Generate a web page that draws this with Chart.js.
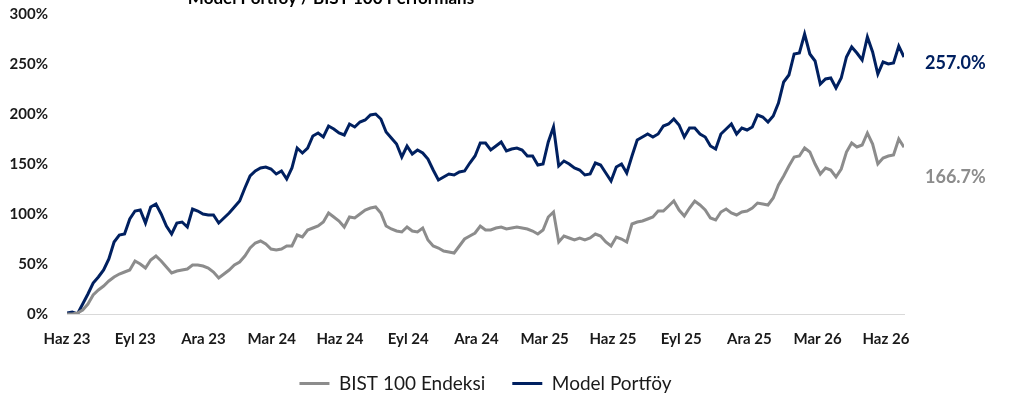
<!DOCTYPE html>
<html>
<head>
<meta charset="utf-8">
<script src="https://cdn.jsdelivr.net/npm/chart.js@4"></script>
<style>
  html, body { margin: 0; padding: 0; background: #fff; }
  #wrap { width: 1014px; height: 400px; }
</style>
</head>
<body>
<div id="wrap"><canvas id="perfChart" width="1014" height="400"></canvas></div>
<script>
// Weekly closes, cumulative % return since Jun 2023
const titleText = 'Model Portföy / BIST 100 Performans';
const seriesNames = ['BIST 100 Endeksi', 'Model Portföy'];
const tickLabels = ['Haz 23', 'Eyl 23', 'Ara 23', 'Mar 24', 'Haz 24', 'Eyl 24', 'Ara 24',
                    'Mar 25', 'Haz 25', 'Eyl 25', 'Ara 25', 'Mar 26', 'Haz 26'];
const yTicks = [0, 50, 100, 150, 200, 250, 300];

const bistValues = [
    0, 0, 1, 4, 10, 19, 24, 28, 33, 37,
    40, 42, 44, 53, 50, 46, 54, 58, 53, 47,
    41, 43, 44, 45, 49, 49, 48, 46, 42, 36,
    40, 44, 49, 52, 58, 66, 71, 73, 70, 65,
    64, 65, 68, 68, 79, 77, 84, 86, 88, 92,
    101, 97, 93, 87, 97, 96, 100, 104, 106, 107,
    101, 88, 85, 83, 82, 87, 83, 82, 86, 74,
    68, 66, 63, 62, 61, 68, 75, 78, 81, 88,
    84, 84, 86, 87, 85, 86, 87, 86, 85, 83,
    80, 84, 97, 102, 72, 78, 76, 74, 76, 74,
    76, 80, 78, 72, 68, 77, 75, 72, 90, 92,
    93, 95, 97, 103, 103, 108, 113, 104, 98, 106,
    113, 109, 104, 96, 94, 102, 105, 101, 99, 102,
    103, 106, 111, 110, 109, 116, 129, 138, 148, 157,
    158, 166, 162, 150, 140, 146, 144, 137, 145, 162,
    171, 167, 169, 181, 170, 150, 156, 158, 159, 175,
    166.7
];

const modelValues = [
    1, 2, 0, 10, 20, 31, 37, 44, 55, 72,
    79, 80, 95, 103, 104, 91, 107, 110, 100, 88,
    80, 91, 92, 87, 105, 103, 100, 99, 99, 91,
    96, 101, 107, 113, 126, 138, 143, 146, 147, 145,
    140, 143, 135, 146, 166, 161, 166, 178, 181, 177,
    188, 185, 181, 179, 190, 187, 192, 194, 199, 200,
    195, 182, 176, 170, 157, 168, 160, 164, 161, 155,
    144, 134, 137, 140, 139, 142, 143, 151, 158, 171,
    171, 164, 168, 172, 163, 165, 166, 164, 158, 158,
    149, 150, 172, 187, 148, 153, 150, 146, 144, 139,
    140, 151, 149, 141, 133, 147, 150, 141, 158, 174,
    177, 180, 177, 180, 188, 190, 195, 189, 177, 186,
    186, 180, 177, 168, 165, 180, 185, 190, 180, 186,
    184, 187, 199, 197, 192, 198, 211, 232, 239, 260,
    261, 280, 260, 253, 230, 235, 236, 226, 236, 257,
    267, 261, 254, 277, 262, 240, 252, 250, 251, 268,
    257
];

const navy = '#002060';
const grey = '#8c8c8c';
const WEEK = 7 / 30.4375; // months per week

function toPoints(values) {
    return values.map((v, i) => ({ x: i * WEEK, y: v }));
}

// keep the legend compact at the very bottom
const legendFit = {
    id: 'legendFit',
    beforeInit(chart) {
        const origFit = chart.legend.fit;
        chart.legend.fit = function () {
            origFit.call(this);
            this.height = 53;
        };
    }
};

const overlayText = {
    id: 'overlayText',
    afterDatasetsDraw(chart) {
        const { ctx, chartArea, scales } = chart;
        ctx.save();
        // title, cut off at the top like the original
        ctx.font = 'bold 17px Lato';
        ctx.fillStyle = '#000';
        ctx.textAlign = 'center';
        ctx.textBaseline = 'alphabetic';
        ctx.fillText(titleText, 331, 4);

        // last value labels
        ctx.font = 'bold 18px Lato';
        ctx.textAlign = 'left';
        ctx.textBaseline = 'middle';
        const lx = chartArea.right + 21;
        const lastModel = modelValues[modelValues.length - 1];
        const lastBist = bistValues[bistValues.length - 1];
        ctx.fillStyle = navy;
        ctx.fillText(lastModel.toFixed(1) + '%', lx, scales.y.getPixelForValue(lastModel) + 6);
        ctx.fillStyle = grey;
        ctx.fillText(lastBist.toFixed(1) + '%', lx, scales.y.getPixelForValue(lastBist) + 30);
        ctx.restore();
    }
};

const ctx = document.getElementById('perfChart').getContext('2d');
const perfChart = new Chart(ctx, {
    type: 'line',
    data: {
        datasets: [
            {
                label: seriesNames[0],
                data: toPoints(bistValues),
                borderColor: grey,
                backgroundColor: grey,
                borderWidth: 3,
                pointRadius: 0,
                pointStyle: 'line',
                tension: 0
            },
            {
                label: seriesNames[1],
                data: toPoints(modelValues),
                borderColor: navy,
                backgroundColor: navy,
                borderWidth: 3,
                pointRadius: 0,
                pointStyle: 'line',
                tension: 0
            }
        ]
    },
    options: {
        responsive: false,
        animation: false,
        layout: { padding: { top: 14, right: 110, left: 0, bottom: 0 } },
        scales: {
            x: {
                type: 'linear',
                min: 0,
                max: (modelValues.length - 1) * WEEK,
                grid: { display: false, drawTicks: false },
                border: { display: true, color: '#d9d9d9', width: 1 },
                afterBuildTicks: axis => {
                    axis.ticks = tickLabels.map((_, q) => ({ value: q * 3 }));
                },
                ticks: {
                    autoSkip: false,
                    maxRotation: 0,
                    padding: 16,
                    color: '#1a1a1a',
                    font: { family: 'Lato', size: 15, weight: 'bold' },
                    callback: v => tickLabels[Math.round(v / 3)]
                },
                afterFit: axis => { axis.height = 33; }
            },
            y: {
                min: 0,
                max: 300,
                grid: { display: false, drawTicks: true, tickLength: 19 },
                border: { display: false },
                afterBuildTicks: axis => {
                    axis.ticks = yTicks.map(v => ({ value: v }));
                },
                ticks: {
                    padding: 0,
                    color: '#1a1a1a',
                    font: { family: 'Lato', size: 15, weight: 'bold' },
                    callback: v => v + '%'
                },
                afterFit: axis => { axis.width = 67; }
            }
        },
        plugins: {
            legend: {
                position: 'bottom',
                fullSize: false,
                labels: {
                    usePointStyle: true,
                    pointStyle: 'line',
                    pointStyleWidth: 30,
                    boxWidth: 30,
                    padding: 27,
                    color: '#1a1a1a',
                    font: { family: 'Lato', size: 19 }
                }
            },
            tooltip: { enabled: false }
        }
    },
    plugins: [legendFit, overlayText]
});
</script>
</body>
</html>
